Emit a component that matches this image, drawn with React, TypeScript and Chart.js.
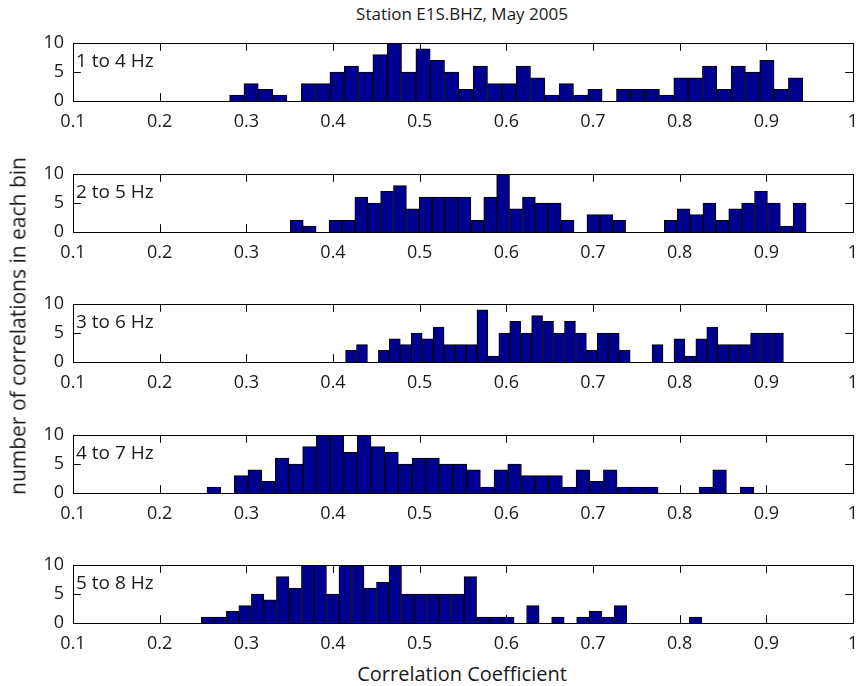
import React, { useEffect, useRef } from "react";
import { Chart, registerables } from "chart.js";

Chart.register(...registerables);

// ---- data ----
const titleText = "Station E1S.BHZ, May 2005";
const xLabelText = "Correlation Coefficient";
const yLabelText = "number of correlations in each bin";

const bandLabels = ["1 to 4 Hz", "2 to 5 Hz", "3 to 6 Hz", "4 to 7 Hz", "5 to 8 Hz"];
// histogram range (first bin edge, last bin edge) for each band
const binStart = [0.2807, 0.3508, 0.4145, 0.2546, 0.2481];
const binEnd = [0.942, 0.9459, 0.9197, 0.8855, 0.8255];

const counts1to4 = [1, 3, 2, 1, 0, 3, 3, 5, 6, 5, 8, 10, 5, 9, 7, 5, 2, 6, 3, 3, 6, 4, 1, 3, 1, 2, 0, 2, 2, 2, 1, 4, 4, 6, 2, 6, 5, 7, 2, 4];
const counts2to5 = [2, 1, 0, 2, 2, 6, 5, 7, 8, 4, 6, 6, 6, 6, 2, 6, 10, 4, 6, 5, 5, 2, 0, 3, 3, 2, 0, 0, 0, 2, 4, 3, 5, 2, 4, 5, 7, 5, 1, 5];
const counts3to6 = [2, 3, 0, 2, 4, 3, 5, 4, 6, 3, 3, 3, 9, 1, 5, 7, 5, 8, 7, 5, 7, 5, 2, 5, 5, 2, 0, 0, 3, 0, 4, 1, 4, 6, 3, 3, 3, 5, 5, 5];
const counts4to7 = [1, 0, 3, 4, 2, 6, 5, 8, 10, 10, 7, 10, 8, 7, 5, 6, 6, 5, 5, 4, 1, 4, 5, 3, 3, 3, 1, 4, 2, 4, 1, 1, 1, 0, 0, 0, 1, 4, 0, 1];
const counts5to8 = [1, 1, 2, 3, 5, 4, 8, 6, 10, 10, 5, 10, 10, 6, 7, 10, 5, 5, 5, 5, 5, 8, 1, 1, 1, 0, 3, 0, 1, 0, 1, 2, 1, 3, 0, 0, 0, 0, 0, 1];
const allCounts = [counts1to4, counts2to5, counts3to6, counts4to7, counts5to8];

const xTicks = [0.1, 0.2, 0.3, 0.4, 0.5, 0.6, 0.7, 0.8, 0.9, 1];
const xTickLabels = ["0.1", "0.2", "0.3", "0.4", "0.5", "0.6", "0.7", "0.8", "0.9", "1"];
const yTicks = [0, 5, 10];
const yTickLabels = ["0", "5", "10"];

// ---- layout / style ----
const FONT = "'Open Sans', 'DejaVu Sans', sans-serif";
const TEXT = "#1a1a1a";
const BAR_FILL = "rgb(0,0,143)";
const panelTops = [43, 174, 304, 435, 565];
const PAD_TOP = 12;
const PLOT_H = 58;
const XAXIS_H = 34;
const LEFT = 73;
const RIGHT_PAD = 4;
const W = 857;

function Panel({ idx }: { idx: number }) {
  const ref = useRef<HTMLCanvasElement | null>(null);
  useEffect(() => {
    if (!ref.current) return;
    const counts = allCounts[idx];
    const n = counts.length;
    const start = binStart[idx];
    const width = (binEnd[idx] - start) / n;
    const points = counts.map((c, i) => ({ x: start + (i + 0.5) * width, y: c }));
    const label = bandLabels[idx];

    const axesPlugin = {
      id: "axesBox" + idx,
      beforeDatasetsDraw(chart: any) {
        const { ctx, chartArea: a, scales } = chart;
        const L = 7.8;
        ctx.save();
        ctx.strokeStyle = "#000";
        ctx.lineWidth = 1;
        ctx.beginPath();
        xTicks.forEach((v) => {
          const px = Math.round(scales.x.getPixelForValue(v)) + 0.5;
          ctx.moveTo(px, a.bottom);
          ctx.lineTo(px, a.bottom - L);
          ctx.moveTo(px, a.top);
          ctx.lineTo(px, a.top + L);
        });
        yTicks.forEach((v) => {
          const py = Math.round(scales.y.getPixelForValue(v)) + 0.5;
          ctx.moveTo(a.left, py);
          ctx.lineTo(a.left + L, py);
          ctx.moveTo(a.right, py);
          ctx.lineTo(a.right - L, py);
        });
        ctx.stroke();
        ctx.restore();
      },
      afterDraw(chart: any) {
        const { ctx, chartArea: a } = chart;
        ctx.save();
        ctx.strokeStyle = "#000";
        ctx.lineWidth = 1;
        ctx.strokeRect(Math.round(a.left) + 0.5, Math.round(a.top) + 0.5, Math.round(a.right - a.left), Math.round(a.bottom - a.top));
        ctx.fillStyle = TEXT;
        ctx.font = `19px ${FONT}`;
        ctx.textAlign = "left";
        ctx.textBaseline = "alphabetic";
        ctx.fillText(label, a.left + 3, a.top + 24);
        ctx.restore();
      },
    };

    const chart = new Chart(ref.current, {
      type: "bar",
      data: {
        datasets: [
          {
            data: points as any,
            backgroundColor: BAR_FILL,
            borderColor: "#000",
            borderWidth: 1,
            borderSkipped: "start",
            barPercentage: 1,
            categoryPercentage: 1,
            grouped: false,
          } as any,
        ],
      },
      options: {
        animation: false,
        responsive: false,
        maintainAspectRatio: false,
        events: [],
        layout: { padding: { top: PAD_TOP, left: 0, right: RIGHT_PAD, bottom: 0 } },
        plugins: { legend: { display: false }, tooltip: { enabled: false }, title: { display: false } },
        scales: {
          x: {
            type: "linear",
            min: 0.1,
            max: 1,
            offset: false,
            grid: { display: false, drawTicks: false },
            border: { display: false },
            afterBuildTicks: (s: any) => {
              s.ticks = xTicks.map((v) => ({ value: v }));
            },
            afterFit: (s: any) => {
              s.height = XAXIS_H;
              s.paddingLeft = 0;
              s.paddingRight = 0;
            },
            ticks: {
              autoSkip: false,
              maxRotation: 0,
              minRotation: 0,
              padding: 10,
              color: TEXT,
              font: { family: FONT, size: 18 },
              callback: (v: any) => {
                const i = xTicks.findIndex((t) => Math.abs(t - Number(v)) < 1e-9);
                return i >= 0 ? xTickLabels[i] : "";
              },
            },
          },
          y: {
            type: "linear",
            min: 0,
            max: 10,
            grid: { display: false, drawTicks: false },
            border: { display: false },
            afterBuildTicks: (s: any) => {
              s.ticks = yTicks.map((v) => ({ value: v }));
            },
            afterFit: (s: any) => {
              s.width = LEFT;
              s.paddingTop = 0;
              s.paddingBottom = 0;
            },
            ticks: {
              autoSkip: false,
              padding: 9,
              color: TEXT,
              font: { family: FONT, size: 18 },
              callback: (v: any) => {
                const i = yTicks.findIndex((t) => Math.abs(t - Number(v)) < 1e-9);
                return i >= 0 ? yTickLabels[i] : "";
              },
            },
          },
        },
      } as any,
      plugins: [axesPlugin],
    });
    return () => chart.destroy();
  }, [idx]);

  return (
    <canvas
      ref={ref}
      width={W}
      height={PAD_TOP + PLOT_H + XAXIS_H}
      style={{
        position: "absolute",
        left: 0,
        top: panelTops[idx] - PAD_TOP,
        width: W,
        height: PAD_TOP + PLOT_H + XAXIS_H,
      }}
    />
  );
}

export default function App() {
  const textBase: React.CSSProperties = {
    position: "absolute",
    fontFamily: FONT,
    color: TEXT,
    whiteSpace: "nowrap",
    lineHeight: 1,
    transform: "translate(-50%, -50%)",
  };
  return (
    <div style={{ position: "absolute", left: 0, top: 0, width: W, height: 686, background: "#fff", overflow: "hidden" }}>
      <div style={{ ...textBase, left: 462, top: 13, fontSize: 17 }}>{titleText}</div>
      {bandLabels.map((_, i) => (
        <Panel key={i} idx={i} />
      ))}
      <div style={{ ...textBase, left: 462, top: 674, fontSize: 20 }}>{xLabelText}</div>
      <div style={{ ...textBase, left: 18, top: 326, fontSize: 21, transform: "translate(-50%, -50%) rotate(-90deg)" }}>
        {yLabelText}
      </div>
    </div>
  );
}
